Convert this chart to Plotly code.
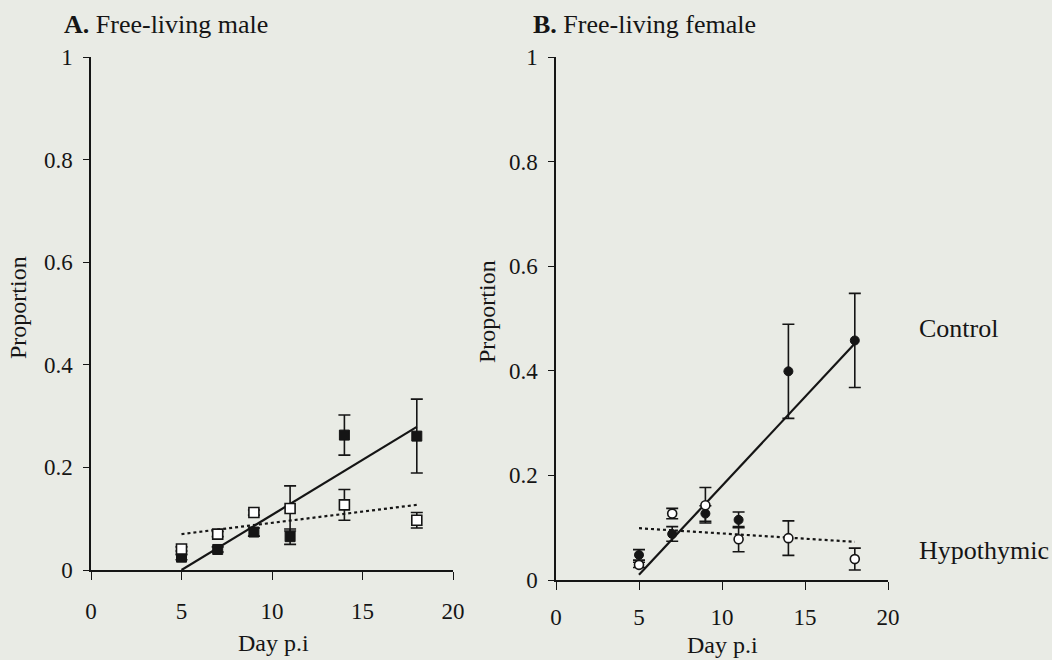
import plotly.graph_objects as go

# ---------------- data ----------------
days = [5, 7, 9, 11, 14, 18]

# Panel A: free-living male
male_control = [0.025, 0.040, 0.074, 0.065, 0.263, 0.261]
male_control_err = [0.005, 0.005, 0.008, 0.015, 0.039, 0.072]
male_hypo = [0.041, 0.070, 0.112, 0.120, 0.127, 0.097]
male_hypo_err = [0.004, 0.005, 0.005, 0.044, 0.030, 0.015]

# Panel B: free-living female
female_control = [0.048, 0.088, 0.127, 0.115, 0.399, 0.458]
female_control_err = [0.010, 0.014, 0.015, 0.015, 0.090, 0.090]
female_hypo = [0.029, 0.127, 0.143, 0.078, 0.080, 0.040]
female_hypo_err = [0.005, 0.010, 0.034, 0.024, 0.033, 0.021]

# regression lines (end points)
fit_days = [5, 18]
male_control_fit = [0.0, 0.279]
male_hypo_fit = [0.070, 0.127]
female_control_fit = [0.010, 0.452]
female_hypo_fit = [0.099, 0.073]

x_ticks = [0, 5, 10, 15, 20]
y_ticks = [0, 0.2, 0.4, 0.6, 0.8, 1]
y_tick_text = ["0", "0.2", "0.4", "0.6", "0.8", "1"]

panel_titles = ["<b>A.</b> Free-living male", "<b>B.</b> Free-living female"]
x_title = "Day p.i"
y_title = "Proportion"
series_labels = ["Control", "Hypothymic"]

# ---------------- figure ----------------
W, H = 1052, 660
BG = "#e9ebe5"
INK = "#151515"
FONT = "Liberation Serif, Times New Roman, serif"

fig = go.Figure()


def add_panel(xa, ya, ctrl, ctrl_err, hypo, hypo_err, cfit, hfit, symbol, msize):
    fig.add_trace(go.Scatter(
        x=fit_days, y=cfit, mode="lines", xaxis=xa, yaxis=ya,
        line=dict(color=INK, width=2.2), showlegend=False, hoverinfo="skip"))
    fig.add_trace(go.Scatter(
        x=fit_days, y=hfit, mode="lines", xaxis=xa, yaxis=ya,
        line=dict(color=INK, width=2.2, dash="dot"), showlegend=False, hoverinfo="skip"))
    fig.add_trace(go.Scatter(
        x=days, y=ctrl, mode="markers", xaxis=xa, yaxis=ya,
        marker=dict(symbol=symbol, size=msize, color=INK, line=dict(color=INK, width=1)),
        error_y=dict(type="data", array=ctrl_err, color=INK, thickness=1.6, width=6),
        showlegend=False, name=series_labels[0]))
    fig.add_trace(go.Scatter(
        x=days, y=hypo, mode="markers", xaxis=xa, yaxis=ya,
        marker=dict(symbol=symbol, size=msize, color="white", line=dict(color=INK, width=1.6)),
        error_y=dict(type="data", array=hypo_err, color=INK, thickness=1.6, width=6),
        showlegend=False, name=series_labels[1]))


add_panel("x", "y", male_control, male_control_err, male_hypo, male_hypo_err,
          male_control_fit, male_hypo_fit, "square", 10)
add_panel("x2", "y2", female_control, female_control_err, female_hypo, female_hypo_err,
          female_control_fit, female_hypo_fit, "circle", 9)

# pixel geometry of the two plot areas
A = dict(x0=91, x1=453, y0=570, y1=57)
B = dict(x0=556, x1=888, y0=580, y1=57)


def dom_x(p):
    return [p["x0"] / W, p["x1"] / W]


def dom_y(p):
    return [(H - p["y0"]) / H, (H - p["y1"]) / H]


axis_common = dict(
    showgrid=False, zeroline=False, showline=True, linecolor=INK, linewidth=1.5,
    ticks="outside", tickcolor=INK, tickwidth=1.3, automargin=False,
    tickfont=dict(family=FONT, size=23, color=INK),
)

fig.update_layout(
    width=W, height=H,
    margin=dict(l=0, r=0, t=0, b=0, pad=0),
    paper_bgcolor=BG, plot_bgcolor=BG,
    font=dict(family=FONT, color=INK),
    xaxis=dict(domain=dom_x(A), anchor="y", range=[0, 20], tickvals=x_ticks,
               ticklen=8, ticklabelstandoff=12, **axis_common),
    yaxis=dict(domain=dom_y(A), anchor="x", range=[0, 1], tickvals=y_ticks,
               ticktext=y_tick_text, ticklen=6, ticklabelstandoff=6, **axis_common),
    xaxis2=dict(domain=dom_x(B), anchor="y2", range=[0, 20], tickvals=x_ticks,
                ticklen=8, ticklabelstandoff=8, **axis_common),
    yaxis2=dict(domain=dom_y(B), anchor="x2", range=[0, 1], tickvals=y_ticks,
                ticktext=y_tick_text, ticklen=6, ticklabelstandoff=6, **axis_common),
)


def px_ann(text, x, y, size, xanchor="center", yanchor="middle", angle=0):
    fig.add_annotation(
        text=text, x=x / W, y=(H - y) / H, xref="paper", yref="paper",
        xanchor=xanchor, yanchor=yanchor, showarrow=False, textangle=angle,
        font=dict(family=FONT, size=size, color=INK))


# panel titles
px_ann(panel_titles[0], 62, 25, 26, xanchor="left")
px_ann(panel_titles[1], 531, 25, 26, xanchor="left")
# axis titles
px_ann(y_title, 18, 308, 24, angle=-90)
px_ann(y_title, 487, 312, 24, angle=-90)
px_ann(x_title, 273, 643, 24)
px_ann(x_title, 722, 645, 24)
# series labels
px_ann(series_labels[0], 917, 328, 26, xanchor="left")
px_ann(series_labels[1], 917, 550, 26, xanchor="left")

fig.write_html(
    "out.html",
    config={"displayModeBar": False},
    post_script="document.body.style.margin='0';document.body.style.padding='0';"
                "document.body.style.overflow='hidden';",
)
